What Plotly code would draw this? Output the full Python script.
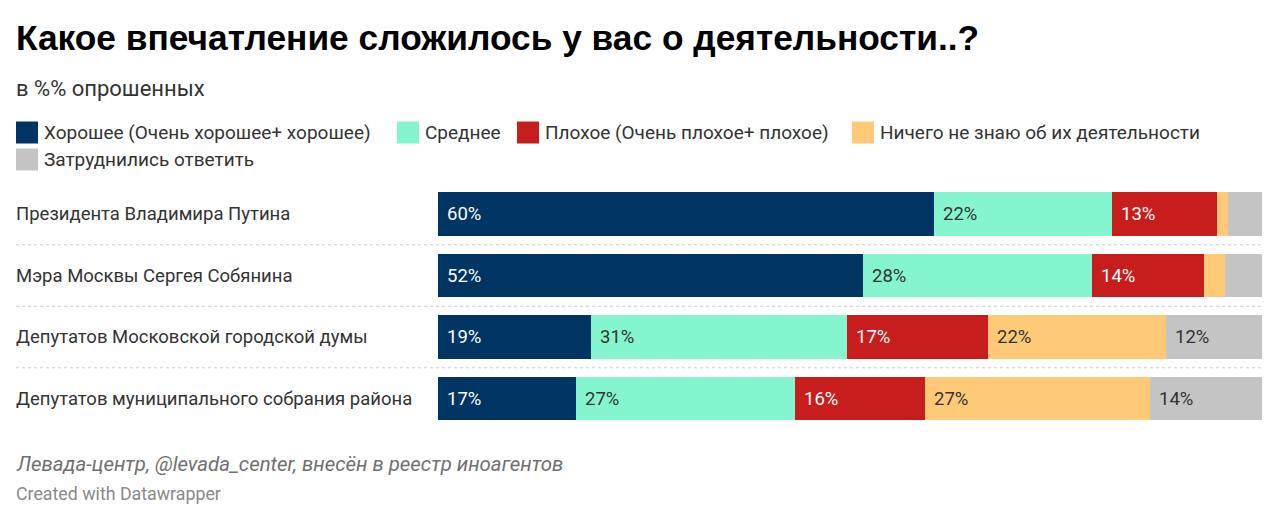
import numpy as np
import plotly.graph_objects as go

# the page has an 8px body margin, so the figure is drawn 8px in and kept inside the window
OFF = 8
W, H = 1280 - OFF, 522 - OFF

# ---- data (shares in %) ----
categories = [
    "Президента Владимира Путина",
    "Мэра Москвы Сергея Собянина",
    "Депутатов Московской городской думы",
    "Депутатов муниципального собрания района",
]
series_names = [
    "Хорошее (Очень хорошее+ хорошее)",
    "Среднее",
    "Плохое (Очень плохое+ плохое)",
    "Ничего не знаю об их деятельности",
    "Затруднились ответить",
]
good = [60.2, 51.6, 18.6, 16.7]
average = [21.6, 27.8, 31.0, 26.6]
bad = [12.7, 13.6, 17.1, 15.8]
dont_know = [1.4, 2.5, 21.6, 27.3]
hard_to_say = [4.1, 4.5, 11.7, 13.6]

series_values = [good, average, bad, dont_know, hard_to_say]
colors = ["#003463", "#85f5cf", "#c71e1d", "#ffca78", "#c4c4c4"]
text_colors = ["#ffffff", "#333333", "#ffffff", "#333333", "#333333"]

FONT = "Roboto"


def px_x(x):
    return (x - OFF) / W


def px_y(y):
    return 1 - (y - OFF) / H


fig = go.Figure()
for name, vals, col in zip(series_names, series_values, colors):
    fig.add_trace(go.Bar(
        y=categories, x=vals, name=name, orientation="h",
        marker=dict(color=col, line=dict(width=0)),
        showlegend=False, hoverinfo="x+name",
    ))

annotations = []
shapes = []

# value labels inside segments (left aligned, small segments unlabeled)
starts = np.cumsum([[0] * len(categories)] + series_values[:-1], axis=0)
for s, vals in enumerate(series_values):
    for i, v in enumerate(vals):
        if v < 6:
            continue
        annotations.append(dict(
            x=starts[s][i], y=categories[i], xref="x", yref="y",
            text=f"{round(v)}%", showarrow=False, xanchor="left", xshift=7,
            font=dict(family=FONT, size=18.5, color=text_colors[s]),
        ))

# category labels on the left
for c in categories:
    annotations.append(dict(
        x=px_x(16), y=c, xref="paper", yref="y", text=c, showarrow=False,
        xanchor="left", xshift=-2, font=dict(family=FONT, size=18.5, color="#333333"),
    ))

# dotted separators between rows
for k in range(len(categories) - 1):
    shapes.append(dict(
        type="line", xref="paper", yref="y", x0=px_x(16), x1=px_x(1262),
        y0=k + 0.5, y1=k + 0.5, line=dict(color="#cccccc", width=1, dash="dot"),
    ))

# legend (manual, like Datawrapper)
legend_pos = [(16, 132.5), (397, 132.5), (517, 132.5), (852, 132.5), (16, 159.5)]
for (lx, ly), name, col in zip(legend_pos, series_names, colors):
    shapes.append(dict(
        type="rect", xref="paper", yref="paper",
        x0=px_x(lx), x1=px_x(lx + 22), y0=px_y(ly - 11), y1=px_y(ly + 11),
        fillcolor=col, line=dict(width=0),
    ))
    annotations.append(dict(
        x=px_x(lx + 26), y=px_y(ly), xref="paper", yref="paper", text=name,
        showarrow=False, xanchor="left", yanchor="middle",
        font=dict(family=FONT, size=19, color="#333333"),
    ))

# title, subtitle, footer
annotations += [
    dict(x=px_x(14), y=px_y(37), xref="paper", yref="paper", xanchor="left", yanchor="middle",
         text="<b>Какое впечатление сложилось у вас о деятельности..?</b>", showarrow=False,
         font=dict(family="Liberation Sans", size=35.3, color="#000000")),
    dict(x=px_x(14), y=px_y(88), xref="paper", yref="paper", xanchor="left", yanchor="middle",
         text="в %% опрошенных", showarrow=False,
         font=dict(family=FONT, size=22, color="#333333")),
    dict(x=px_x(14), y=px_y(464), xref="paper", yref="paper", xanchor="left", yanchor="middle",
         text="<i>Левада-центр, @levada_center, внесён в реестр иноагентов</i>", showarrow=False,
         font=dict(family=FONT, size=20.4, color="#707070")),
    dict(x=px_x(14), y=px_y(493), xref="paper", yref="paper", xanchor="left", yanchor="middle",
         text="Created with Datawrapper", showarrow=False,
         font=dict(family=FONT, size=17.8, color="#8a8a8a")),
]

fig.update_layout(
    barmode="stack", bargap=0.29,
    width=W, height=H, autosize=False,
    margin=dict(l=0, r=0, t=0, b=0),
    paper_bgcolor="white", plot_bgcolor="white",
    xaxis=dict(domain=[px_x(438), px_x(1262)], range=[0, 100], visible=False, fixedrange=True),
    yaxis=dict(domain=[px_y(429.25), px_y(183.25)], autorange="reversed",
               visible=False, fixedrange=True),
    annotations=annotations, shapes=shapes,
)

fig.write_html("out.html")
